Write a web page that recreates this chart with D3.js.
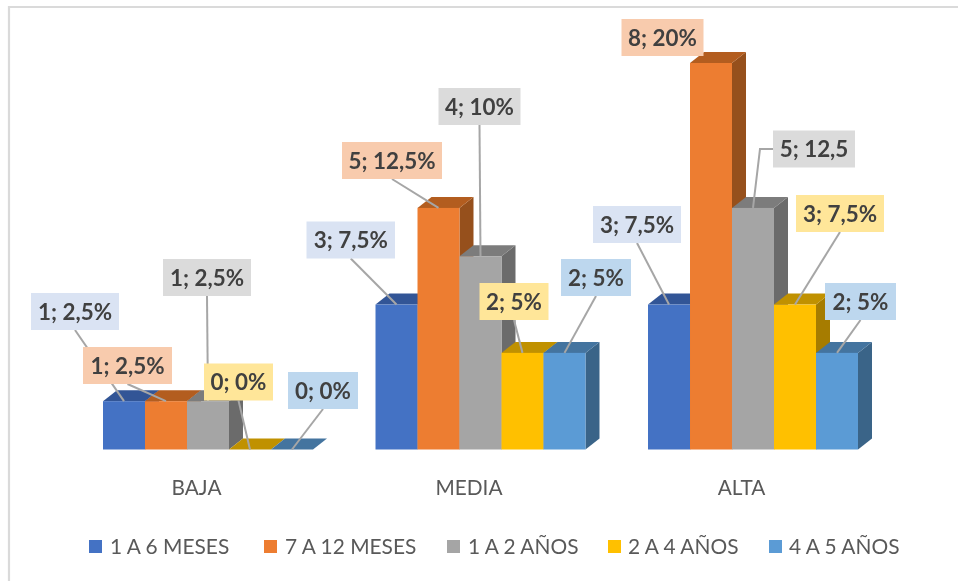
<!DOCTYPE html>
<html><head><meta charset="utf-8">
<script src="https://cdn.jsdelivr.net/npm/d3@7"></script>
<style>html,body{margin:0;padding:0;background:#fff}svg{display:block;filter:blur(.45px)}text{font-family:Lato,"Open Sans",sans-serif}</style>
</head><body><div id="c"></div>
<script>
const categories = ["BAJA","MEDIA","ALTA"];
const seriesNames = ["1 A 6 MESES","7 A 12 MESES","1 A 2 AÑOS","2 A 4 AÑOS","4 A 5 AÑOS"];
const s1a6 = [1,3,3];
const s7a12 = [1,5,8];
const s1a2 = [1,4,5];
const s2a4 = [0,2,3];
const s4a5 = [0,2,2];
const seriesValues = [s1a6,s7a12,s1a2,s2a4,s4a5];
const labels1a6 = ["1; 2,5%","3; 7,5%","3; 7,5%"];
const labels7a12 = ["1; 2,5%","5; 12,5%","8; 20%"];
const labels1a2 = ["1; 2,5%","4; 10%","5; 12,5"];
const labels2a4 = ["0; 0%","2; 5%","3; 7,5%"];
const labels4a5 = ["0; 0%","2; 5%","2; 5%"];
const seriesLabels = [labels1a6,labels7a12,labels1a2,labels2a4,labels4a5];

// presentation only
const W=958,H=581;
const front=["#4472C4","#ED7D31","#A5A5A5","#FFC000","#5B9BD5"];
const top3d=["#325596","#B35D1F","#7C7C7C","#C09100","#44749F"];
const side=["#2F5288","#96501C","#6B6B6B","#A67C00","#3A6488"];
const tint=["#DAE3F3","#F8CBAD","#DBDBDB","#FFE699","#BDD7EE"];
const dx=14,dy=11;
// label boxes [x0,x1,y0] per series, per category; height is constant
const boxH=37;
const boxes=[
 [[31,119,293],[306.5,395,221.5],[593,681,206]],
 [[83,172,347],[342,442,142],[621.5,703.5,19]],
 [[163,251,259],[438.5,520.5,88],[773,855,130.5]],
 [[204,273,363.5],[479.5,548.5,283],[796,884,195]],
 [[288,358,372],[561,631,259],[825,896,283]]
];
const legendX=[[89,110],[264,285],[447,468],[608,628],[769,789]];

const x0=d3.scaleBand().domain(categories).range([103,858]).paddingInner(.2294).paddingOuter(0);
const x1=d3.scaleBand().domain(seriesNames).range([0,x0.bandwidth()]);
const y=d3.scaleLinear().domain([0,8]).range([449.5,63]);

const svg=d3.select("#c").append("svg").attr("width",W).attr("height",H);
svg.append("rect").attr("width",W).attr("height",H).attr("fill","#fff");
svg.append("path").attr("d",`M9,${H}V7H${W}`).attr("fill","none").attr("stroke","#DADADA").attr("stroke-width",2.2);

const flat=[];
seriesNames.forEach((n,s)=>categories.forEach((c,k)=>flat.push({s,k,n,c,v:seriesValues[s][k],label:seriesLabels[s][k]})));
flat.sort((a,b)=>a.k-b.k||a.s-b.s);
const bw=x1.bandwidth();
const bx=d=>x0(d.c)+x1(d.n);

const bars=svg.append("g").selectAll("g").data(flat).join("g");
bars.filter(d=>d.v>0).append("path").attr("fill",d=>side[d.s])
 .attr("d",d=>{const a=bx(d)+bw,t=y(d.v),b=y(0);return `M${a},${t}l${dx},${-dy}V${b-dy}l${-dx},${dy}Z`;});
bars.append("path").attr("fill",d=>top3d[d.s])
 .attr("d",d=>{const a=bx(d),t=y(d.v);return `M${a},${t}l${dx},${-dy}h${bw}l${-dx},${dy}Z`;});
bars.append("rect").attr("fill",d=>front[d.s])
 .attr("x",bx).attr("width",bw).attr("y",d=>y(d.v)).attr("height",d=>y(0)-y(d.v));

// leaders
const box=d=>{const b=boxes[d.s][d.k];return {x0:b[0],x1:b[1],y0:b[2],y1:b[2]+boxH};};
svg.append("g").selectAll("path").data(flat.filter(d=>!(d.c==="ALTA"&&d.s===1))).join("path")
 .attr("fill","none").attr("stroke","#A6A6A6").attr("stroke-width",2)
 .attr("d",d=>{const b=box(d),ax=bx(d)+bw/2,ay=y(d.v);
   if(d.c==="ALTA"&&d.s===2) return `M${b.x0},${(b.y0+b.y1)/2}h-13L${ax},${ay}`;
   return `M${(b.x0+b.x1)/2},${b.y1}L${ax},${ay}`;});

// label boxes, drawn by series so later series sit on top
const lab=svg.append("g").selectAll("g").data(flat.slice().sort((a,b)=>a.s-b.s||a.k-b.k)).join("g");
lab.append("rect").attr("fill",d=>tint[d.s])
 .attr("x",d=>box(d).x0).attr("y",d=>box(d).y0).attr("width",d=>box(d).x1-box(d).x0).attr("height",boxH);
lab.append("text").text(d=>d.label).attr("text-anchor","middle").attr("font-weight",700)
 .attr("font-size",22.4).attr("fill","#404040")
 .attr("x",d=>(box(d).x0+box(d).x1)/2).attr("y",d=>box(d).y0+boxH/2+8);

// category axis
const axis=svg.append("g").attr("transform","translate(-11.5,476.5)")
 .call(d3.axisBottom(x0).tickSize(0).tickPadding(0));
axis.select(".domain").remove();
axis.selectAll("text").attr("font-size",20.8).attr("fill","#595959").attr("dy","0.9em").style("font-family","Lato");

// legend
const lg=svg.append("g").selectAll("g").data(seriesNames).join("g");
lg.append("rect").attr("x",(d,i)=>legendX[i][0]).attr("y",540).attr("width",13).attr("height",13).attr("fill",(d,i)=>front[i]);
lg.append("text").text(d=>d).attr("x",(d,i)=>legendX[i][1]).attr("y",553.5).attr("font-size",20.9).attr("fill","#595959");
</script></body></html>
